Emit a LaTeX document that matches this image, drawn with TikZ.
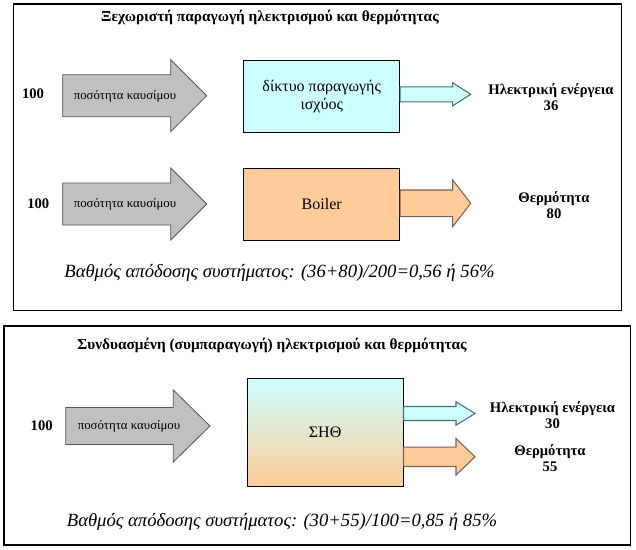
\documentclass[tikz,border=0pt]{standalone}
\usepackage{fontspec}
\setmainfont{Liberation Serif}
\usetikzlibrary{calc}
\definecolor{fuelgray}{RGB}{192,192,192}
\definecolor{powercyan}{RGB}{204,255,255}
\definecolor{heatorange}{RGB}{255,204,153}
\definecolor{fueledge}{RGB}{85,85,85}
\definecolor{cyanedge}{RGB}{75,110,120}
\definecolor{orangeedge}{RGB}{120,100,85}

% fuel arrow: #1 left x, #2 head start x, #3 tip x, #4 axis y, #5 shaft half, #6 head half
\newcommand{\fuelarrow}[6]{%
  \draw[fuelshape] (#1,#4-#5) -- (#2,#4-#5) -- (#2,#4-#6) -- (#3,#4)
    -- (#2,#4+#6) -- (#2,#4+#5) -- (#1,#4+#5) -- cycle;}
% outgoing arrow: #1 style, #2 box, #3 axis y, #4 shaft half, #5 head half, #6 head start x, #7 tip
\newcommand{\outarrow}[7]{%
  \draw[#1] (#2.east |- 0,#3-#4) -- (#6,#3-#4) -- (#6,#3-#5) -- (#7)
    -- (#6,#3+#5) -- (#6,#3+#4) -- (#2.east |- 0,#3+#4) -- cycle;}

\begin{document}
\begin{tikzpicture}[x=0.75pt,y=-0.75pt,
    frame/.style={draw=black,line width=0.8pt},
    plant/.style={draw=black,line width=0.6pt,inner sep=0pt,anchor=north west,
      minimum width=117pt,font=\fontsize{12}{14}\selectfont,align=center},
    fuelshape/.style={draw=fueledge,fill=fuelgray,line width=0.6pt},
    elecshape/.style={draw=cyanedge,fill=powercyan,line width=0.8pt},
    heatshape/.style={draw=orangeedge,fill=heatorange,line width=0.8pt},
    fueltext/.style={font=\fontsize{9.6}{10}\selectfont},
    amount/.style={font=\bfseries\fontsize{11}{12}\selectfont},
    result/.style={font=\bfseries\fontsize{11}{12}\selectfont,align=center},
    heading/.style={font=\bfseries\fontsize{11.5}{12}\selectfont},
    efficiency/.style={font=\itshape\fontsize{14}{15}\selectfont}]
  \useasboundingbox (0,0) rectangle (636,550);
  % frames
  \draw[frame] (13.3,4) rectangle (621.7,310.7);
  \draw[frame] (4,326) rectangle (630.7,545);

  % --- separate production ---
  \node[heading] (title1) at (270,17.5) {Ξεχωριστή παραγωγή ηλεκτρισμού και θερμότητας};
  % power plant
  \fuelarrow{62.7}{170.7}{206.7}{95.7}{21}{36}
  \node[amount] (in1) at (33,94) {100};
  \node[fueltext] (fuel1) at (125,96.7) {ποσότητα καυσίμου};
  \node[plant,fill=powercyan,minimum height=54pt] (grid) at (243.3,60)
    {δίκτυο παραγωγής\\ισχύος};
  \coordinate (gridtip) at (470.7,94.3);
  \outarrow{elecshape}{grid}{94.3}{7.5}{11.5}{452.7}{gridtip}
  \node[result] (elec1) at (551,97.5) {Ηλεκτρική ενέργεια\\36};
  % boiler
  \fuelarrow{62.7}{170.7}{206.7}{204}{21}{36}
  \node[amount] (in2) at (38.3,204) {100};
  \node[fueltext] (fuel2) at (125,204) {ποσότητα καυσίμου};
  \node[plant,fill=heatorange,minimum height=54pt] (boiler) at (243.3,168) {Boiler};
  \coordinate (boilertip) at (470.7,203.3);
  \outarrow{heatshape}{boiler}{203.3}{13.3}{23.3}{452.7}{boilertip}
  \node[result] (heat1) at (554,204.7) {Θερμότητα\\80};
  \node[efficiency] (eff1) at (279.5,273)
    {Βαθμός απόδοσης συστήματος: (36+80)/200=0,56 ή 56\%};

  % --- combined production ---
  \node[heading] (title2) at (272,345) {Συνδυασμένη (συμπαραγωγή) ηλεκτρισμού και θερμότητας};
  \fuelarrow{65.7}{173.3}{210}{426}{18.5}{36}
  \node[amount] (in3) at (41.7,425.7) {100};
  \node[fueltext] (fuel3) at (129,426.7) {ποσότητα καυσίμου};
  \node[plant,top color=powercyan,bottom color=heatorange,minimum height=81pt]
    (chp) at (246.7,378.3) {ΣΗΘ};
  \coordinate (chpelec) at (475,413.5);
  \coordinate (chpheat) at (475,456.8);
  \outarrow{elecshape}{chp}{413.5}{7}{11.7}{456}{chpelec}
  \outarrow{heatshape}{chp}{456.8}{9.7}{18.3}{456}{chpheat}
  \node[result] (elec2) at (552.5,414.7) {Ηλεκτρική ενέργεια\\30};
  \node[result] (heat2) at (550,458.3) {Θερμότητα\\55};
  \node[efficiency] (eff2) at (282,522)
    {Βαθμός απόδοσης συστήματος: (30+55)/100=0,85 ή 85\%};
\end{tikzpicture}
\end{document}
